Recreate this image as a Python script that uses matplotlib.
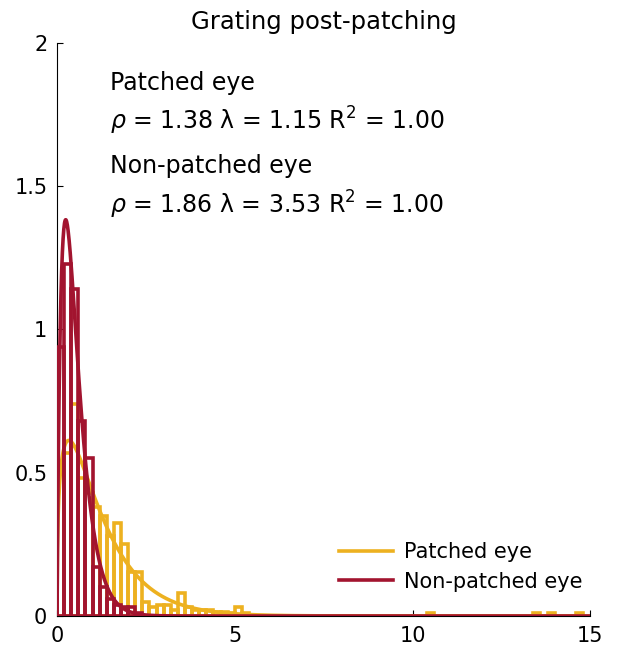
import math
import numpy as np
import matplotlib
matplotlib.use('Agg')
import matplotlib.pyplot as plt

# histogram bin width and heights (probability density)
bin_width = 0.2
patched_heights = [0.50, 0.57, 0.74, 0.48, 0.43, 0.38, 0.35, 0.28, 0.325, 0.25,
                   0.155, 0.155, 0.05, 0.03, 0.04, 0.04, 0.02, 0.08, 0.03, 0.02,
                   0.02, 0.02, 0.015, 0.015, 0.01, 0.03, 0.01, 0.0]
patched_outlier_bins = [10.4, 13.4, 13.8, 14.6]
patched_outlier_heights = [0.012, 0.012, 0.012, 0.012]
nonpatched_heights = [0.94, 1.23, 1.14, 0.68, 0.55, 0.17, 0.10, 0.06, 0.04,
                      0.03, 0.03, 0.01]

# gamma fit parameters shown on the chart
rho = [1.38, 1.86]
lam = [1.15, 3.53]
r2 = [1.00, 1.00]
labels = ['Patched eye', 'Non-patched eye']

yellow = '#EDB120'
red = '#A2142F'

plt.rcParams['font.family'] = ['DejaVu Sans']
plt.rcParams['mathtext.fontset'] = 'dejavusans'

fig = plt.figure(figsize=(6.2, 6.58), dpi=100)
ax = fig.add_axes([0.092, 0.0638, 0.86, 0.871])

# patched histogram spans all bins up to the largest outlier
n_bins = int(round(14.8 / bin_width))
yh = np.zeros(n_bins)
yh[:len(patched_heights)] = patched_heights
for b, h in zip(patched_outlier_bins, patched_outlier_heights):
    yh[int(round(b / bin_width))] = h
y_edges = np.arange(n_bins) * bin_width
rh = np.array(nonpatched_heights)
r_edges = np.arange(len(rh)) * bin_width

x = np.linspace(0, 15, 1500)

def gamma_pdf(x, k, rate):
    return rate ** k * x ** (k - 1) * np.exp(-rate * x) / math.gamma(k)

lw = 2.6
ax.bar(y_edges, yh, width=bin_width, align='edge', fill=False,
       edgecolor=yellow, linewidth=lw, zorder=2)
ax.plot(x, gamma_pdf(x, rho[0], lam[0]), color=yellow, lw=lw,
        label=labels[0], zorder=3)
ax.bar(r_edges, rh, width=bin_width, align='edge', fill=False,
       edgecolor=red, linewidth=lw, zorder=4)
ax.plot(x, gamma_pdf(x, rho[1], lam[1]), color=red, lw=lw,
        label=labels[1], zorder=5)

ax.set_xlim(0, 15)
ax.set_ylim(0, 2)
ax.set_xticks([0, 5, 10, 15])
ax.set_yticks([0, 0.5, 1, 1.5, 2])
ax.set_yticklabels(['0', '0.5', '1', '1.5', '2'])
ax.tick_params(direction='in', length=4, labelsize=15, width=0.8, pad=7)
ax.spines['top'].set_visible(False)
ax.spines['right'].set_visible(False)
ax.set_title('Grating post-patching', fontsize=17.5, pad=10)

ys = [0.930, 0.864, 0.785, 0.717]
for i in range(2):
    ax.text(0.1, ys[2 * i], labels[i], transform=ax.transAxes, fontsize=17,
            va='center', ha='left')
    ax.text(0.1, ys[2 * i + 1],
            r'$\rho$ = %.2f $\mathrm{\lambda}$ = %.2f R$^2$ = %.2f'
            % (rho[i], lam[i], r2[i]),
            transform=ax.transAxes, fontsize=17, va='center', ha='left')

leg = ax.legend(loc='lower right', frameon=False, fontsize=15,
                handlelength=2.6, handletextpad=0.5, labelspacing=0.45,
                bbox_to_anchor=(1.02, 0.01))

fig.savefig('out.png', dpi=100)
